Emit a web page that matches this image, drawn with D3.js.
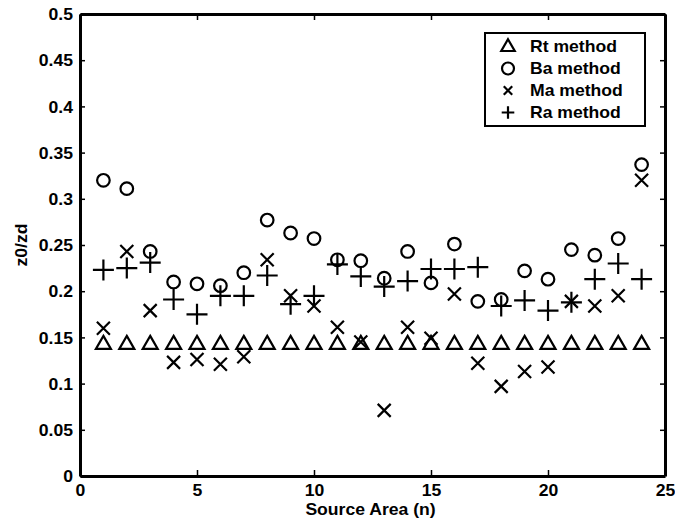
<!DOCTYPE html>
<html>
<head>
<meta charset="utf-8">
<script src="https://cdn.jsdelivr.net/npm/d3@7/dist/d3.min.js"></script>
<style>
body { margin: 0; background: #fff; }
text { font-family: "Liberation Sans", Arial, sans-serif; font-weight: bold; fill: #000; }
</style>
</head>
<body>
<svg id="chart"></svg>
<script>
// source areas (x)
var areas = [1, 2, 3, 4, 5, 6, 7, 8, 9, 10, 11, 12, 13, 14, 15, 16, 17, 18, 19, 20, 21, 22, 23, 24];

// z0/zd per method
var rtValues = [0.143, 0.143, 0.143, 0.143, 0.143, 0.143, 0.143, 0.143, 0.143, 0.143, 0.143, 0.143,
	0.143, 0.143, 0.143, 0.143, 0.143, 0.143, 0.143, 0.143, 0.143, 0.143, 0.143, 0.143];
var baValues = [0.320, 0.311, 0.243, 0.210, 0.208, 0.206, 0.220, 0.277, 0.263, 0.257, 0.234, 0.233,
	0.214, 0.243, 0.209, 0.251, 0.189, 0.191, 0.222, 0.213, 0.245, 0.239, 0.257, 0.337];
var maValues = [0.160, 0.243, 0.179, 0.123, 0.126, 0.121, 0.129, 0.234, 0.195, 0.184, 0.161, 0.145,
	0.071, 0.161, 0.149, 0.197, 0.122, 0.097, 0.113, 0.118, 0.189, 0.184, 0.195, 0.320];
var raValues = [0.223, 0.225, 0.231, 0.191, 0.175, 0.195, 0.195, 0.217, 0.186, 0.195, 0.229, 0.216,
	0.205, 0.211, 0.224, 0.224, 0.226, 0.184, 0.190, 0.179, 0.188, 0.213, 0.230, 0.213];

var seriesNames = ["Rt method", "Ba method", "Ma method", "Ra method"];
var seriesMarks = ["triangle", "circle", "cross", "plus"];

var xTicks = [0, 5, 10, 15, 20, 25];
var yTicks = [0, 0.05, 0.1, 0.15, 0.2, 0.25, 0.3, 0.35, 0.4, 0.45, 0.5];
var yTickLabels = ["0", "0.05", "0.1", "0.15", "0.2", "0.25", "0.3", "0.35", "0.4", "0.45", "0.5"];

var W = 675, H = 528;
var margin = {top: 14, right: 10, bottom: 52, left: 80},
	width = W - margin.left - margin.right,
	height = H - margin.top - margin.bottom;
var fontSize = 16;
var stretch = "scale(1.1,1)";

var svg = d3.select("#chart").attr("width", W).attr("height", H);
var g = svg.append("g").attr("transform", "translate(" + margin.left + "," + margin.top + ")");

var xScale = d3.scaleLinear().domain([0, 25]).range([0, width]);
var yScale = d3.scaleLinear().domain([0, 0.5]).range([height, 0]);

function markPath(type, s) {
	if (type === "triangle") return "M0," + (-8 * s) + "L" + (7.5 * s) + "," + (5 * s) + "L" + (-7.5 * s) + "," + (5 * s) + "Z";
	if (type === "circle") return d3.arc()({innerRadius: 0, outerRadius: 6.3 * s, startAngle: 0, endAngle: 2 * Math.PI});
	if (type === "cross") { var c = 6.5 * s; return "M" + (-c) + "," + (-c) + "L" + c + "," + c + "M" + (-c) + "," + c + "L" + c + "," + (-c); }
	var p = 10.5 * s; return "M" + (-p) + ",0L" + p + ",0M0," + (-p) + "L0," + p;
}

// axes, ticks pointing inward on all four sides
var xAxis = d3.axisBottom(xScale).tickValues(xTicks).tickSizeInner(-6).tickSizeOuter(0).tickPadding(9);
var yAxis = d3.axisLeft(yScale).tickValues(yTicks).tickSizeInner(-5).tickSizeOuter(0)
	.tickFormat(function(d, i) { return yTickLabels[i]; });

var gx = g.append("g").attr("transform", "translate(0," + height + ")").call(xAxis);
var gy = g.append("g").call(yAxis);
g.append("g").call(d3.axisTop(xScale).tickValues(xTicks).tickSizeInner(-6).tickSizeOuter(0).tickFormat(""));
g.append("g").attr("transform", "translate(" + width + ",0)")
	.call(d3.axisRight(yScale).tickValues(yTicks).tickSizeInner(-5).tickSizeOuter(0).tickFormat(""));

g.selectAll(".domain").attr("stroke", "#000").attr("stroke-width", 3);
g.selectAll(".tick line").attr("stroke", "#000").attr("stroke-width", 1.5);
g.selectAll(".tick text").attr("font-size", fontSize).attr("font-family", null);
gx.selectAll(".tick text").attr("transform", stretch);
gy.selectAll(".tick text").attr("x", -6.4).attr("dy", "0.36em").attr("transform", stretch);

svg.append("text")
	.attr("text-anchor", "middle")
	.attr("font-size", fontSize)
	.attr("transform", "translate(" + (margin.left + width / 2 - 2) + ",515) " + stretch)
	.text("Source Area (n)");
svg.append("text")
	.attr("text-anchor", "middle")
	.attr("font-size", fontSize)
	.attr("transform", "translate(27," + (margin.top + height / 2) + ") rotate(-90) " + stretch)
	.text("z0/zd");

// data marks
var allValues = [rtValues, baValues, maValues, raValues];
allValues.forEach(function(vals, k) {
	g.append("g").selectAll("path")
		.data(areas)
		.enter().append("path")
		.attr("transform", function(d, i) { return "translate(" + xScale(d) + "," + yScale(vals[i]) + ")"; })
		.attr("d", markPath(seriesMarks[k], 1))
		.attr("fill", "none")
		.attr("stroke", "#000")
		.attr("stroke-width", 2.2);
});

// legend
var legend = svg.append("g").attr("transform", "translate(485,33)");
legend.append("rect")
	.attr("width", 160).attr("height", 93)
	.attr("fill", "#fff").attr("stroke", "#000").attr("stroke-width", 2);
var legendSizes = [0.9, 0.95, 0.65, 0.6];
var rows = legend.selectAll(".legend")
	.data(seriesNames)
	.enter().append("g")
	.attr("class", "legend")
	.attr("transform", function(d, i) { return "translate(0," + (13.5 + i * 22) + ")"; });
rows.append("path")
	.attr("transform", "translate(23,0)")
	.attr("d", function(d, i) { return markPath(seriesMarks[i], legendSizes[i]); })
	.attr("fill", "none").attr("stroke", "#000").attr("stroke-width", 2.2);
rows.append("text")
	.attr("font-size", fontSize)
	.attr("dy", "0.36em")
	.attr("transform", "translate(45,0) " + stretch)
	.text(function(d) { return d; });
</script>
</body>
</html>
